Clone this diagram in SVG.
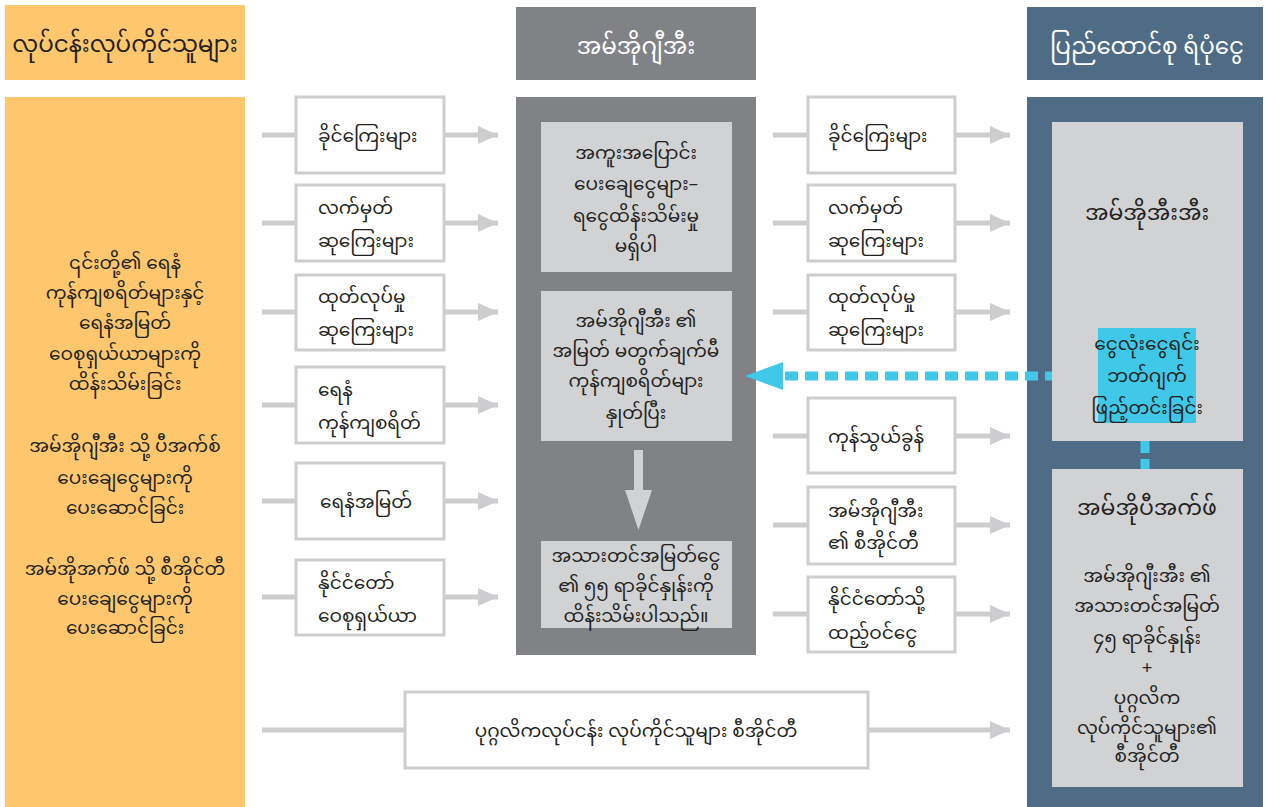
<svg xmlns="http://www.w3.org/2000/svg" width="1265" height="807" viewBox="0 0 1265 807">
<defs>
<style>
text{font-family:"Noto Sans Myanmar","Padauk","Myanmar Text","Noto Sans",sans-serif;font-size:18.5px;fill:#231F20}
.hd{font-size:23px}
.hm{font-size:22px}
.w{fill:#ffffff}
.c{text-anchor:middle}
.sb{fill:#ffffff;stroke:#CDCDCF;stroke-width:3}
.lg{fill:#D1D2D4}
.cn{stroke:#CDCDCF;stroke-width:5;fill:none}
.dash{stroke:#40C8E8;stroke-width:9;fill:none;stroke-dasharray:13 7}
</style>
<marker id="ah" markerUnits="userSpaceOnUse" markerWidth="22" markerHeight="20" refX="20" refY="9" orient="auto" viewBox="0 0 22 20">
<path d="M0,0 L20,9 L0,18 z" fill="#CDCDCF"/>
</marker>
</defs>
<rect width="1265" height="807" fill="#ffffff"/>

<g id="col-workers">
<rect x="5" y="5" width="240" height="75" fill="#FEC76E"/>
<text class="hd c" x="125" y="52">လုပ်ငန်းလုပ်ကိုင်သူများ</text>
<rect x="5" y="97" width="240" height="710" fill="#FEC76E"/>
<text class="c" x="125" y="269">၎င်းတို့၏ ရေနံ</text>
<text class="c" x="125" y="299">ကုန်ကျစရိတ်များနှင့်</text>
<text class="c" x="125" y="329">ရေနံအမြတ်</text>
<text class="c" x="125" y="360">ဝေစုရှယ်ယာများကို</text>
<text class="c" x="125" y="390">ထိန်းသိမ်းခြင်း</text>
<text class="c" x="125" y="452">အမ်အိုဂျီအီး  သို့  ပီအက်စ်</text>
<text class="c" x="125" y="484">ပေးချေငွေများကို</text>
<text class="c" x="125" y="514">ပေးဆောင်ခြင်း</text>
<text class="c" x="125" y="575">အမ်အိုအက်ဖ်  သို့  စီအိုင်တီ</text>
<text class="c" x="125" y="605">ပေးချေငွေများကို</text>
<text class="c" x="125" y="634">ပေးဆောင်ခြင်း</text>
</g>

<g id="col-moge">
<rect x="516" y="7" width="240" height="73" fill="#818285"/>
<text class="hd c w" x="636" y="54">အမ်အိုဂျီအီး</text>
<rect x="516" y="97" width="240" height="558" fill="#818285"/>
</g>

<g id="col-fund">
<rect x="1027" y="7" width="236" height="73" fill="#4E6C86"/>
<text class="hd c w" x="1147" y="54">ပြည်ထောင်စု  ရံပုံငွေ</text>
<rect x="1027" y="97" width="236" height="710" fill="#4E6C86"/>
</g>

<g id="connectors">
<line class="cn" x1="262" y1="135" x2="296" y2="135"/>
<line class="cn" x1="444" y1="135" x2="498" y2="135" marker-end="url(#ah)"/>
<line class="cn" x1="262" y1="223" x2="296" y2="223"/>
<line class="cn" x1="444" y1="223" x2="498" y2="223" marker-end="url(#ah)"/>
<line class="cn" x1="262" y1="312" x2="296" y2="312"/>
<line class="cn" x1="444" y1="312" x2="498" y2="312" marker-end="url(#ah)"/>
<line class="cn" x1="262" y1="405" x2="296" y2="405"/>
<line class="cn" x1="444" y1="405" x2="498" y2="405" marker-end="url(#ah)"/>
<line class="cn" x1="262" y1="501" x2="296" y2="501"/>
<line class="cn" x1="444" y1="501" x2="498" y2="501" marker-end="url(#ah)"/>
<line class="cn" x1="262" y1="597" x2="296" y2="597"/>
<line class="cn" x1="444" y1="597" x2="498" y2="597" marker-end="url(#ah)"/>

<line class="cn" x1="773" y1="135" x2="808" y2="135"/>
<line class="cn" x1="955" y1="135" x2="1010" y2="135" marker-end="url(#ah)"/>
<line class="cn" x1="773" y1="223" x2="808" y2="223"/>
<line class="cn" x1="955" y1="223" x2="1010" y2="223" marker-end="url(#ah)"/>
<line class="cn" x1="773" y1="312" x2="808" y2="312"/>
<line class="cn" x1="955" y1="312" x2="1010" y2="312" marker-end="url(#ah)"/>
<line class="cn" x1="773" y1="436" x2="808" y2="436"/>
<line class="cn" x1="955" y1="436" x2="1010" y2="436" marker-end="url(#ah)"/>
<line class="cn" x1="773" y1="525" x2="808" y2="525"/>
<line class="cn" x1="955" y1="525" x2="1010" y2="525" marker-end="url(#ah)"/>
<line class="cn" x1="773" y1="614" x2="808" y2="614"/>
<line class="cn" x1="955" y1="614" x2="1010" y2="614" marker-end="url(#ah)"/>

<line class="cn" x1="262" y1="730" x2="405" y2="730"/>
<line class="cn" x1="868" y1="730" x2="1010" y2="730" marker-end="url(#ah)"/>

<path d="M634,450 L643,450 L643,490 L652,490 L638.5,530 L625,490 L634,490 z" fill="#D1D2D4"/>

<line class="dash" x1="1098" y1="376" x2="783" y2="376"/>
<path d="M745,376 L783,362 L783,390 z" fill="#40C8E8"/>
<line class="dash" x1="1145" y1="423" x2="1145" y2="469" style="stroke-dasharray:12 6"/>
</g>

<g id="l1"><rect class="sb" x="296" y="97" width="148" height="76"/><text x="318" y="142">ခိုင်ကြေးများ</text></g>
<g id="l2"><rect class="sb" x="296" y="185" width="148" height="76"/><text x="318" y="214">လက်မှတ်</text><text x="318" y="247">ဆုကြေးများ</text></g>
<g id="l3"><rect class="sb" x="296" y="275" width="148" height="75"/><text x="318" y="303">ထုတ်လုပ်မှု</text><text x="318" y="336">ဆုကြေးများ</text></g>
<g id="l4"><rect class="sb" x="296" y="367" width="148" height="76"/><text x="318" y="396">ရေနံ</text><text x="318" y="429">ကုန်ကျစရိတ်</text></g>
<g id="l5"><rect class="sb" x="296" y="463" width="148" height="76"/><text x="320" y="508">ရေနံအမြတ်</text></g>
<g id="l6"><rect class="sb" x="296" y="560" width="148" height="75"/><text x="318" y="589">နိုင်ငံတော်</text><text x="318" y="622">ဝေစုရှယ်ယာ</text></g>

<g id="m1"><rect class="lg" x="541" y="122" width="191" height="150"/>
<text class="c" x="636" y="159">အကူးအပြောင်း</text>
<text class="c" x="636" y="190">ပေးချေငွေများ–</text>
<text class="c" x="636" y="222">ရငွေထိန်းသိမ်းမှု</text>
<text class="c" x="636" y="252">မရှိပါ</text></g>
<g id="m2"><rect class="lg" x="541" y="291" width="191" height="150"/>
<text class="c" x="636" y="327">အမ်အိုဂျီအီး  ၏</text>
<text class="c" x="636" y="357">အမြတ်  မတွက်ချက်မီ</text>
<text class="c" x="636" y="387">ကုန်ကျစရိတ်များ</text>
<text class="c" x="636" y="419">နှုတ်ပြီး</text></g>
<g id="m3"><rect class="lg" x="541" y="541" width="191" height="87"/>
<text class="c" x="636" y="562">အသားတင်အမြတ်ငွေ</text>
<text class="c" x="636" y="592">၏  ၅၅  ရာခိုင်နှုန်းကို</text>
<text class="c" x="636" y="622">ထိန်းသိမ်းပါသည်။</text></g>

<g id="r1"><rect class="sb" x="808" y="97" width="147" height="76"/><text x="828" y="142">ခိုင်ကြေးများ</text></g>
<g id="r2"><rect class="sb" x="808" y="185" width="147" height="76"/><text x="828" y="214">လက်မှတ်</text><text x="828" y="247">ဆုကြေးများ</text></g>
<g id="r3"><rect class="sb" x="808" y="275" width="147" height="75"/><text x="828" y="303">ထုတ်လုပ်မှု</text><text x="828" y="336">ဆုကြေးများ</text></g>
<g id="r4"><rect class="sb" x="808" y="398" width="147" height="75"/><text x="828" y="443">ကုန်သွယ်ခွန်</text></g>
<g id="r5"><rect class="sb" x="808" y="487" width="147" height="77"/><text x="828" y="517">အမ်အိုဂျီအီး</text><text x="828" y="549">၏  စီအိုင်တီ</text></g>
<g id="r6"><rect class="sb" x="808" y="577" width="147" height="75"/><text x="828" y="605">နိုင်ငံတော်သို့</text><text x="828" y="639">ထည့်ဝင်ငွေ</text></g>

<g id="b1"><rect class="sb" x="405" y="692" width="463" height="76"/><text class="c" x="636" y="737">ပုဂ္ဂလိကလုပ်ငန်း  လုပ်ကိုင်သူများ  စီအိုင်တီ</text></g>

<g id="moee"><rect class="lg" x="1052" y="122" width="191" height="319"/>
<text class="hm c" x="1147" y="220">အမ်အိုအီးအီး</text></g>
<g id="budget"><rect x="1098" y="328" width="98" height="95" fill="#40C8E8"/>
<text class="c" x="1147" y="350">ငွေလုံးငွေရင်း</text>
<text class="c" x="1147" y="382">ဘတ်ဂျက်</text>
<text class="c" x="1147" y="414">ဖြည့်တင်းခြင်း</text></g>
<g id="mopf"><rect class="lg" x="1052" y="469" width="191" height="318"/>
<text class="hm c" x="1147" y="515">အမ်အိုပီအက်ဖ်</text>
<text class="c" x="1147" y="582">အမ်အိုဂျီးအီး  ၏</text>
<text class="c" x="1147" y="612">အသားတင်အမြတ်</text>
<text class="c" x="1147" y="644">၄၅  ရာခိုင်နှုန်း</text>
<text class="c" x="1147" y="674">+</text>
<text class="c" x="1147" y="704">ပုဂ္ဂလိက</text>
<text class="c" x="1147" y="734">လုပ်ကိုင်သူများ၏</text>
<text class="c" x="1147" y="762">စီအိုင်တီ</text></g>
</svg>
